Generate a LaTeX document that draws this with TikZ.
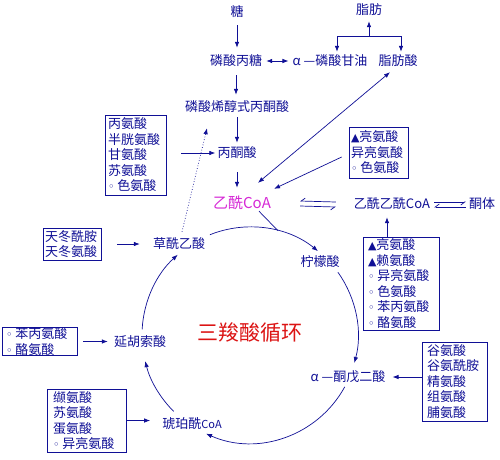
\documentclass[tikz,border=0pt]{standalone}
\usepackage{fontspec}
\setmainfont{Noto Sans CJK SC}
\newfontfamily\dejavu{DejaVu Sans}
\usetikzlibrary{arrows.meta,calc}
\definecolor{navy}{RGB}{16,16,150}
\definecolor{mag}{RGB}{214,40,214}
\definecolor{tred}{RGB}{220,20,20}
\newcommand\uptri{{\dejavu\fontsize{11}{13}\selectfont ▲}}
\newcommand\smallring{\mbox{\dejavu\fontsize{11}{13}\selectfont ◦}\hspace{3pt}}
\begin{document}
\begin{tikzpicture}[x=1pt,y=-1pt,
  every node/.style={text=navy, font=\fontsize{13}{15.5}\selectfont},
  lab/.style={inner sep=1pt, text height=10.5pt, text depth=1.5pt},
  box/.style={draw=navy, line width=0.7pt, align=left, inner ysep=0pt},
  arr/.style={draw=navy, line width=0.7pt, -{Latex[length=6pt,width=4.5pt]}},
  darr/.style={draw=navy, line width=0.7pt, {Latex[length=6pt,width=4.5pt]}-{Latex[length=6pt,width=4.5pt]}},
  ln/.style={draw=navy, line width=0.7pt},
  hl/.style={draw=navy, line width=0.7pt, {Straight Barb[harpoon,swap,length=4pt,width=6pt]}-},
  hr/.style={draw=navy, line width=0.7pt, -{Straight Barb[harpoon,swap,length=4pt,width=6pt]}},
]
\fill[white] (0,0) rectangle (500,459);
\useasboundingbox (0,0) rectangle (500,459);

% labels
\node[lab] (tang) at (237,12) {糖};
\node[lab] (zf) at (369,10) {脂肪};
\node[lab] (psbt) at (236,61) {磷酸丙糖};
\node[lab] (agly) at (330,61) {α —磷酸甘油};
\node[lab] (zfs) at (398,61) {脂肪酸};
\node[lab] (pep) at (237,107) {磷酸烯醇式丙酮酸};
\node[lab] (byt) at (237,153) {丙酮酸};
\node[lab, text=mag, font=\fontsize{15}{17}\selectfont, text height=12pt, text depth=2pt] (acoa) at (242,203) {乙酰CoA};
\node[lab] (aacoa) at (392,204) {乙酰乙酰CoA};
\node[lab] (tt) at (482,204) {酮体};
\node[lab] (oaa) at (179,244) {草酰乙酸};
\node[lab] (cit) at (320,262) {柠檬酸};
\node[lab] (akg) at (348,377) {α —酮戊二酸};
\node[lab] (scoa) at (192,424) {琥珀酰{\fontsize{11}{13}\selectfont CoA}};
\node[lab] (fum) at (140,342) {延胡索酸};
\node[text=tred, font=\fontsize{21}{24}\selectfont] (title) at (250,333) {三羧酸循环};

% boxes
\node[box, text width=55pt, inner xsep=3pt, minimum height=80pt] (b1) at (135.5,155) {丙氨酸\\半胱氨酸\\甘氨酸\\苏氨酸\\\smallring 色氨酸};
\node[box, text width=55pt, inner xsep=2pt, minimum height=51pt] (b2) at (378.5,152.5) {\uptri 亮氨酸\\异亮氨酸\\\smallring 色氨酸};
\node[box, text width=66pt, inner xsep=5pt, minimum height=93pt] (b3) at (401,283.5) {\uptri 亮氨酸\\\uptri 赖氨酸\\\smallring 异亮氨酸\\\smallring 色氨酸\\\smallring 苯丙氨酸\\\smallring 酪氨酸};
\node[box, text width=54pt, inner xsep=2pt, minimum height=32pt] (b4) at (72,244) {天冬酰胺\\天冬氨酸};
\node[box, text width=67pt, inner xsep=4pt, minimum height=27pt] (b5) at (39.5,341.5) {\smallring 苯丙氨酸\\\smallring 酪氨酸};
\node[box, text width=67pt, inner xsep=6pt, minimum height=63pt] (b6) at (86.5,420.5) {缬氨酸\\苏氨酸\\蛋氨酸\\\smallring 异亮氨酸};
\node[box, text width=55pt, inner xsep=5pt, minimum height=79pt] (b7) at (454.5,381.5) {谷氨酸\\谷氨酰胺\\精氨酸\\组氨酸\\脯氨酸};

% top pathway
\draw[arr, shorten <=6pt, shorten >=6pt] (tang.south) -- (tang.south |- psbt.north);
\draw[arr, shorten <=7pt, shorten >=5pt] (psbt.south) -- (psbt.south |- pep.north);
\draw[arr, shorten <=3pt, shorten >=3pt] (pep.south) -- (pep.south |- byt.north);
\draw[arr, shorten <=12pt, shorten >=7pt] (byt.south) -- (byt.south |- acoa.north);
\draw[darr, shorten <=3pt, shorten >=3pt] (psbt.east) -- (agly.west);

% fat bracket
\coordinate (brL) at (337,36);
\coordinate (brR) at (401,36);
\coordinate (brM) at (369,36);
\draw[ln] (brL) -- (brR);
\draw[arr, shorten >=2pt] (brL) -- (brL |- agly.north);
\draw[arr, shorten >=2pt] (brR) -- (brR |- zfs.north);
\draw[arr, shorten >=4pt] (brM) -- (brM |- zf.south);

% acetyl-CoA links
\draw[darr] ($(acoa.north)+(16,-12)$) -- ($(zfs.south)+(-8,4)$);
\draw[arr] ($(b2.west)+(-7,4.5)$) -- ($(acoa.north east)+(2,-6)$);
\draw[arr, shorten <=15pt, shorten >=1pt] (b1.east |- byt.west) -- (byt.west);
\draw[arr, dotted] ($(oaa.north)+(3,-5)$) -- ($(pep.south)+(-30,14)$);

% equilibria
\draw[hl] ($(acoa.east)+(28,-2)$) -- ($(aacoa.west)+(-17,-2)$);
\draw[hr] ($(acoa.east)+(28,3)$) -- ($(aacoa.west)+(-17,3)$);
\draw[hr] ($(aacoa.east)+(3,-2)$) -- ($(tt.west)+(-2,-2)$);
\draw[hl] ($(aacoa.east)+(3,3)$) -- ($(tt.west)+(-2,3)$);
\draw[arr] ($(b3.north)+(-14,0)$) -- ($(aacoa.south)+(-5,6)$);

% amino-acid inputs
\draw[arr, shorten <=16pt, shorten >=12pt] (b4.east) -- (oaa.west);
\draw[arr, shorten <=6pt, shorten >=5pt] (b5.east) -- (b5.east -| fum.west);
\draw[arr, shorten >=11pt] (b6.east) -- (b6.east -| scoa.west);
\draw[arr, shorten >=6pt] (b7.west |- akg.east) -- (akg.east);

% cycle
\coordinate (ctr) at (250,335);
\draw[arr] ($(ctr)+(-111.8:108)$) arc[start angle=-111.8, end angle=-51, radius=108];
\draw[arr] ($(ctr)+(-35.5:108)$) arc[start angle=-35.5, end angle=15, radius=108];
\draw[arr] ($(ctr)+(28.7:108)$) arc[start angle=28.7, end angle=114, radius=108];
\draw[arr] ($(ctr)+(135:108)$) arc[start angle=135, end angle=166, radius=108];
\draw[arr] ($(ctr)+(183:108)$) arc[start angle=183, end angle=228, radius=108];
\draw[ln] ($(acoa.south)+(17,0)$) -- ($(ctr)+(-75:108)$);
\end{tikzpicture}
\end{document}
